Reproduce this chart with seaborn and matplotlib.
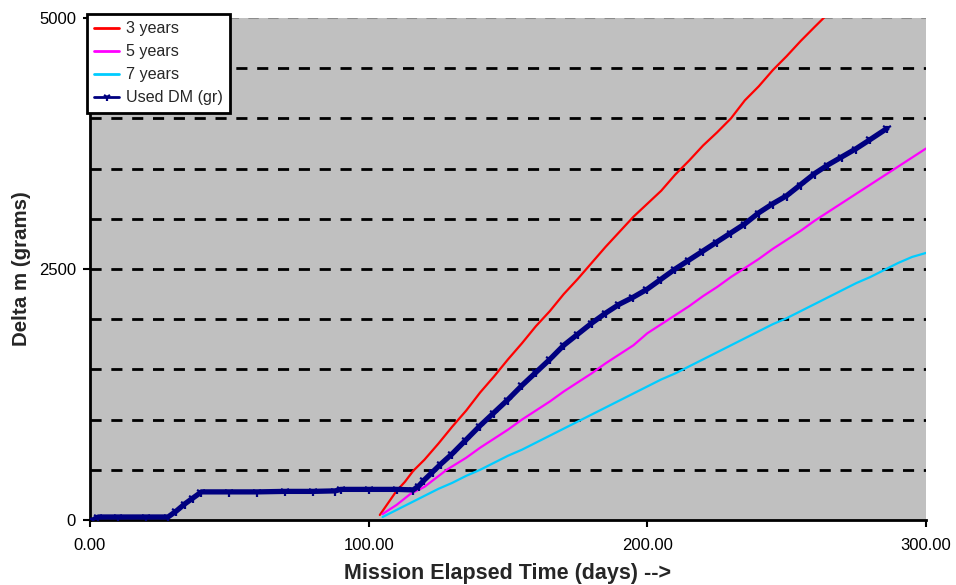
import matplotlib
matplotlib.use("Agg")
import matplotlib.pyplot as plt
import seaborn as sns

# --- data ---
days_3yr = [104, 107, 110, 113, 116, 120, 125, 130, 135, 140, 145, 150, 155, 160, 165, 170, 175,
            180, 185, 190, 195, 200, 205, 210, 215, 220, 225, 230, 235, 240, 245, 250, 255, 260, 264]
dm_3yr = [50, 170, 290, 380, 490, 600, 760, 930, 1090, 1270, 1430, 1600, 1760, 1930, 2080, 2250, 2400,
          2560, 2720, 2870, 3020, 3150, 3280, 3440, 3580, 3730, 3860, 4000, 4180, 4320, 4480, 4620, 4770, 4910, 5020]

days_5yr = [105, 110, 115, 120, 128, 135, 140, 145, 150, 155, 160, 165, 170, 175, 180, 185, 190, 195, 200,
            205, 210, 215, 220, 225, 230, 235, 240, 245, 250, 255, 260, 265, 270, 275, 280, 285, 290, 295, 300]
dm_5yr = [60, 150, 260, 330, 500, 620, 720, 810, 900, 1000, 1090, 1180, 1280, 1370, 1460, 1560, 1650, 1740, 1860,
          1950, 2040, 2130, 2230, 2320, 2420, 2510, 2600, 2700, 2790, 2880, 2980, 3070, 3160, 3250, 3340, 3430,
          3520, 3610, 3700]

days_7yr = [105, 110, 115, 120, 125, 130, 135, 140, 145, 150, 155, 160, 165, 170, 175, 180, 185, 190, 195, 200,
            205, 210, 215, 220, 225, 230, 235, 240, 245, 250, 255, 260, 265, 270, 275, 280, 285, 290, 295, 300]
dm_7yr = [30, 100, 170, 240, 310, 370, 440, 500, 570, 640, 700, 770, 840, 910, 980, 1050, 1120, 1190, 1260, 1330,
          1400, 1460, 1530, 1600, 1670, 1740, 1810, 1880, 1950, 2010, 2080, 2150, 2220, 2290, 2360, 2420, 2490,
          2560, 2620, 2660]

days_used = [1, 3, 10, 20, 28, 31, 34, 37, 40, 50, 60, 70, 80, 88, 90, 100, 110, 116, 118, 120, 123, 126, 130,
             135, 140, 145, 150, 155, 160, 165, 170, 175, 180, 185, 190, 195, 200, 205, 210, 215, 220, 225, 230,
             235, 240, 245, 250, 255, 260, 265, 270, 275, 280, 286]
dm_used = [0, 30, 30, 30, 30, 90, 160, 220, 280, 280, 280, 285, 285, 290, 305, 305, 305, 300, 340, 400, 480, 560,
           660, 800, 940, 1070, 1200, 1340, 1470, 1600, 1740, 1850, 1960, 2060, 2150, 2220, 2300, 2400, 2500, 2590,
           2680, 2770, 2860, 2950, 3060, 3150, 3230, 3340, 3450, 3540, 3620, 3700, 3790, 3900]

x_ticks = [0, 100, 200, 300]
x_tick_labels = ["0.00", "100.00", "200.00", "300.00"]
y_ticks = [0, 2500, 5000]
grid_levels = [500, 1000, 1500, 2000, 2500, 3000, 3500, 4000, 4500]

sns.set_style("white")
plt.rcParams['font.family'] = ['Liberation Sans', 'DejaVu Sans']

fig = plt.figure(figsize=(9.56, 5.85), dpi=100)
ax = fig.add_axes([90 / 956, 1 - 520 / 585, 836 / 956, 502 / 585])
ax.set_facecolor("#C0C0C0")

# dashed grid
for g in grid_levels:
    ax.axhline(g, color="black", lw=2, ls=(0, (4, 3.5)), zorder=1)
ax.axhline(5000, color="#8c8c8c", lw=1.5, ls=(0, (5, 4.5)), zorder=1)

sns.lineplot(x=days_3yr, y=dm_3yr, ax=ax, color="#FF0000", lw=1.6, label="3 years", zorder=3)
sns.lineplot(x=days_5yr, y=dm_5yr, ax=ax, color="#FF00FF", lw=1.6, label="5 years", zorder=3)
sns.lineplot(x=days_7yr, y=dm_7yr, ax=ax, color="#00CCFF", lw=1.6, label="7 years", zorder=3)
sns.lineplot(x=days_used, y=dm_used, ax=ax, color="#000080", lw=3.8, marker="1", markersize=7,
             markeredgewidth=1.6, markeredgecolor="#000080", label="Used DM (gr)", zorder=4)

ax.set_xlim(0, 300)
ax.set_ylim(0, 5000)
ax.set_xticks(x_ticks)
ax.set_xticklabels(x_tick_labels)
ax.set_yticks(y_ticks)
ax.tick_params(axis="both", bottom=True, left=True, direction="out", length=5, width=1.5, color="black",
               labelsize=12, labelcolor="black", pad=5)
ax.tick_params(axis="x", pad=8)

for side in ["top", "right"]:
    ax.spines[side].set_visible(False)
for side in ["left", "bottom"]:
    ax.spines[side].set_color("black")
    ax.spines[side].set_linewidth(2)

ax.set_xlabel("Mission Elapsed Time (days) -->", fontsize=15.5, fontweight="bold", labelpad=7)
ax.set_ylabel("Delta m (grams)", fontsize=14.8, fontweight="bold", labelpad=6)

leg = ax.legend(loc="upper left", bbox_to_anchor=(87 / 956, 1 - 14 / 585), bbox_transform=fig.transFigure,
                frameon=True, fancybox=False, fontsize=11.6, handlelength=1.55, labelspacing=0.5,
                borderpad=0.45, handletextpad=0.4, borderaxespad=0)
leg.get_frame().set_edgecolor("black")
leg.get_frame().set_linewidth(2)
leg.get_frame().set_facecolor("white")
leg.get_frame().set_alpha(1)
for h in leg.get_lines():
    h.set_linewidth(2)
    h.set_markersize(6)

fig.savefig("out.png", dpi=100)
